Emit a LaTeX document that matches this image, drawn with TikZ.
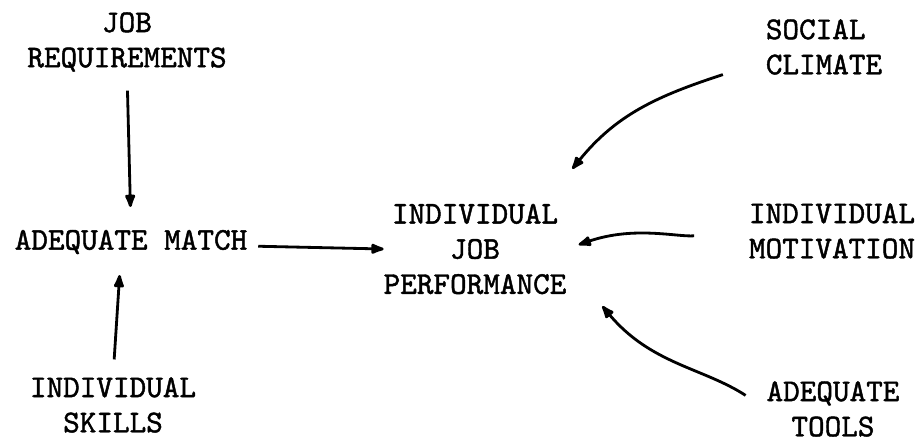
\documentclass[tikz,border=0pt]{standalone}
\usepackage{fontspec}
\usepackage{tikz}
\usetikzlibrary{arrows.meta}
\newfontfamily\typefont{lmmono10-regular.otf}[FakeBold=1.4]

\begin{document}
\begin{tikzpicture}[
        factor/.style={
            font=\typefont\fontsize{18}{20}\selectfont,
            align=center,
            inner sep=0pt,
            outer sep=0pt
        },
        effect/.style={
            line width=1.6pt,
            -{Latex[length=3.4mm,width=2.4mm,round]}
        }
    ]
    \useasboundingbox (0,0) rectangle (18.46,-8.82);

    % left side
    \node[factor] (jobreq) at (2.54,-0.84) {JOB\\REQUIREMENTS};
    \node[factor] (match) at (2.62,-4.84) {ADEQUATE MATCH};
    \node[factor] (skills) at (2.26,-8.10) {INDIVIDUAL\\SKILLS};

    % middle
    \node[factor] (perf) at (9.50,-4.98) {INDIVIDUAL\\JOB\\PERFORMANCE};

    % right side
    \node[factor, align=left] (climate) at (16.48,-0.94) {SOCIAL\\CLIMATE};
    \node[factor] (motiv) at (16.64,-4.62) {INDIVIDUAL\\MOTIVATION};
    \node[factor] (tools) at (16.66,-8.18) {ADEQUATE\\TOOLS};

    \draw[effect, shorten <=0.38cm, shorten >=0.46cm] (jobreq.south) -- (match.north);
    \draw[effect, shorten <=0.36cm, shorten >=0.42cm] (skills.north) -- ([xshift=-0.2cm]match.south);
    \draw[effect, shorten <=0.22cm] ([yshift=-0.08cm]match.east) -- (perf.west);

    \draw[effect] ([xshift=-0.86cm]climate.south west) to[out=198, in=51] ([shift={(0.12cm,0.7cm)}]perf.north east);
    \draw[effect, shorten <=1.1cm, shorten >=0.26cm] (motiv.west) to[out=185, in=19] (perf.east);
    \draw[effect, shorten <=0.5cm] (tools.west) to[out=147, in=310] ([shift={(0.72cm,-0.24cm)}]perf.south east);
\end{tikzpicture}
\end{document}
